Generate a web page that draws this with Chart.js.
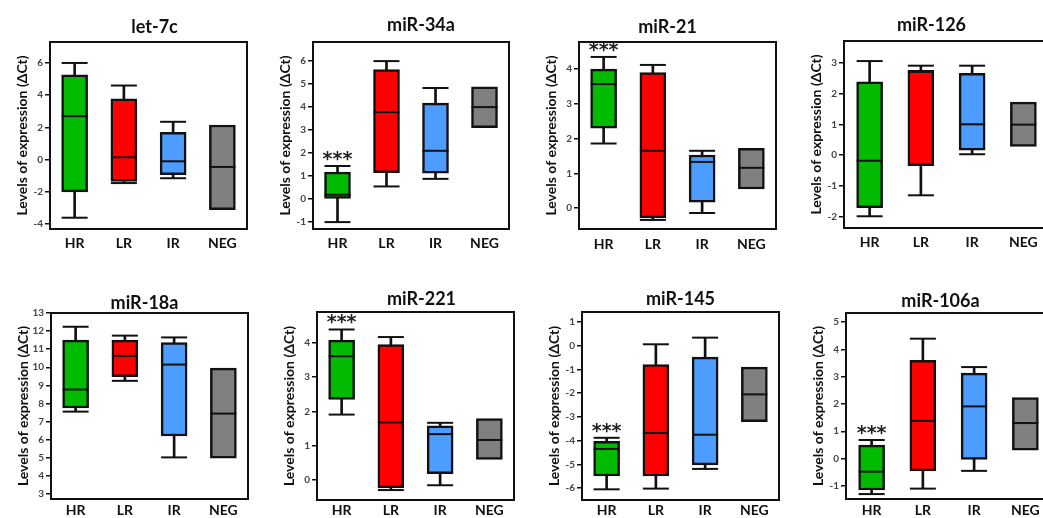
<!DOCTYPE html>
<html>
<head>
<meta charset="utf-8">
<script src="https://cdn.jsdelivr.net/npm/chart.js@4.4.0/dist/chart.umd.min.js"></script>
<style>
html, body { margin: 0; padding: 0; background: #fff; overflow: hidden; width: 1043px; height: 518px; }
#wrap { position: relative; width: 1043px; height: 518px; overflow: hidden; }
canvas { position: absolute; }
</style>
</head>
<body>
<div id="wrap"></div>
<script>
var groups = ["HR", "LR", "IR", "NEG"];
var titles = ["let-7c", "miR-34a", "miR-21", "miR-126", "miR-18a", "miR-221", "miR-145", "miR-106a"];
var boxColors = ["#00bb00", "#ff0000", "#4d9cff", "#808080"];

// one row per panel, one value per group (null = no whisker drawn)
var whiskerLow = [
    [-3.6, -1.45, -1.15, null],
    [-1.0, 0.55, 0.88, null],
    [1.86, -0.34, -0.14, null],
    [-1.98, -1.3, 0.03, null],
    [7.55, 9.25, 5.02, null],
    [1.91, -0.29, -0.15, null],
    [-6.05, -6.02, -5.19, null],
    [-1.3, -1.1, -0.45, null]
];
var q1 = [
    [-2.0, -1.35, -0.93, -3.1],
    [0.0, 1.15, 1.13, 3.1],
    [2.3, -0.28, 0.17, 0.55],
    [-1.7, -0.34, 0.16, 0.28],
    [7.75, 9.48, 6.2, 4.98],
    [2.35, -0.22, 0.19, 0.6],
    [-5.49, -5.49, -5.02, -3.2],
    [-1.15, -0.45, -0.03, 0.31]
];
var medians = [
    [2.7, 0.15, -0.1, -0.45],
    [0.19, 3.78, 2.1, 4.0],
    [3.57, 1.65, 1.33, 1.16],
    [-0.18, 2.7, 1.0, 0.99],
    [8.77, 10.63, 10.15, 7.44],
    [3.61, 1.68, 1.34, 1.17],
    [-4.35, -3.68, -3.75, -2.05],
    [-0.48, 1.38, 1.91, 1.3]
];
var q3 = [
    [5.27, 3.78, 1.7, 2.15],
    [1.17, 5.63, 4.17, 4.88],
    [4.0, 3.9, 1.53, 1.72],
    [2.38, 2.75, 2.65, 1.72],
    [11.5, 11.5, 11.37, 9.95],
    [4.08, 3.95, 1.58, 1.79],
    [-4.03, -0.8, -0.48, -0.9],
    [0.49, 3.6, 3.13, 2.23]
];
var whiskerHigh = [
    [6.0, 4.6, 2.35, null],
    [1.44, 6.0, 4.83, null],
    [4.35, 4.12, 1.65, null],
    [3.05, 2.9, 2.9, null],
    [12.24, 11.75, 11.65, null],
    [4.39, 4.17, 1.67, null],
    [-3.88, 0.06, 0.34, null],
    [0.68, 4.39, 3.35, null]
];
var starred = [false, true, true, false, false, true, true, true];
var yMin = [-4.3, -1.3, -0.6, -2.36, 2.72, -0.58, -6.5, -1.48];
var yMax = [7.3, 6.83, 4.78, 3.7, 13.0, 4.9, 1.42, 5.33];
var yStep = [2, 1, 1, 1, 1, 1, 1, 1];

// layout: plot frame [left, top, width, height] in page pixels
var panelBoxes = [
    [50, 42, 208, 187],
    [313, 42, 207, 187],
    [579, 42, 208, 187],
    [844, 41, 216, 187],
    [51, 313, 208, 186],
    [317, 312, 208, 188],
    [582, 312, 208, 188],
    [846, 313, 216, 186]
];
var titleShift = [[6, -15], [10, -17], [-10, -15], [-15, -16], [-5, -10], [6, -13], [0, -13], [-8, -12]];
var labelPad = [6, 6, 7, 6, 3, 2, 2, 3];

var FONT = "Lato, 'Open Sans', sans-serif";
var AXW = 40, TOPSPACE = 40, XAXH = 26;

// frame round the plot, panel title and the *** marks
var panelPlugin = {
    id: "panelExtras",
    afterDraw: function(chart) {
        var p = chart.options.plugins.panelExtras.index;
        var a = chart.chartArea;
        var ctx = chart.ctx;
        ctx.save();
        ctx.strokeStyle = "#111";
        ctx.lineWidth = 2;
        ctx.strokeRect(a.left, a.top, a.right - a.left, a.bottom - a.top);

        ctx.fillStyle = "#111";
        ctx.font = "bold 18px " + FONT;
        ctx.textAlign = "center";
        ctx.textBaseline = "middle";
        ctx.fillText(titles[p], (a.left + a.right) / 2 + titleShift[p][0], a.top + titleShift[p][1]);

        if (starred[p]) {
            var x = chart.scales.x.getPixelForValue(0);
            var y = chart.scales.y.getPixelForValue(whiskerHigh[p][0]);
            ctx.font = "bold 19px 'DejaVu Sans', sans-serif";
            ctx.fillStyle = "#222";
            ctx.fillText("***", x, y - 6);
        }
        ctx.restore();
    }
};

function pairs(lo, hi) {
    var out = [];
    for (var i = 0; i < lo.length; i++) {
        out.push(lo[i] == null ? null : [lo[i], hi[i]]);
    }
    return out;
}

function drawPanel(p) {
    var b = panelBoxes[p];
    var canvas = document.createElement("canvas");
    canvas.width = b[2] + AXW + 4;
    canvas.height = b[3] + TOPSPACE + XAXH;
    canvas.style.left = (b[0] - AXW) + "px";
    canvas.style.top = (b[1] - TOPSPACE) + "px";
    document.getElementById("wrap").appendChild(canvas);

    var capStyle = {
        type: "line", showLine: false, pointStyle: "line", pointRadius: 13,
        pointBorderWidth: 2, pointBorderColor: "#111", pointHoverRadius: 13
    };

    new Chart(canvas.getContext("2d"), {
        type: "bar",
        data: {
            labels: groups,
            datasets: [
                Object.assign({ label: "median", data: medians[p], order: 1 }, capStyle),
                Object.assign({ label: "max", data: whiskerHigh[p], order: 1 }, capStyle),
                Object.assign({ label: "min", data: whiskerLow[p], order: 1 }, capStyle),
                {
                    label: "box", data: pairs(q1[p], q3[p]), order: 2,
                    backgroundColor: boxColors, borderColor: "#111", borderWidth: 2.5,
                    borderSkipped: false, barThickness: 26, grouped: false
                },
                {
                    label: "whisker", data: pairs(whiskerLow[p], whiskerHigh[p]), order: 3,
                    backgroundColor: "#111", borderWidth: 0, barThickness: 2, grouped: false
                }
            ]
        },
        options: {
            responsive: false,
            devicePixelRatio: 1,
            animation: false,
            events: [],
            layout: { padding: { top: TOPSPACE, right: 4, left: 0, bottom: 0 } },
            plugins: {
                legend: { display: false },
                tooltip: { enabled: false },
                panelExtras: { index: p }
            },
            scales: {
                x: {
                    grid: { display: false, drawTicks: false },
                    border: { display: false },
                    ticks: { color: "#111", padding: labelPad[p], font: { family: FONT, size: 14, weight: "bold" } },
                    afterFit: function(s) { s.height = XAXH; }
                },
                y: {
                    min: yMin[p],
                    max: yMax[p],
                    border: { display: false },
                    grid: { drawOnChartArea: false, drawTicks: true, tickLength: 5, color: "#111", lineWidth: 1.5 },
                    ticks: { stepSize: yStep[p], includeBounds: false, padding: 2, color: "#444",
                             font: { family: FONT, size: 10, weight: "bold" } },
                    title: { display: true, text: "Levels of expression (\u0394Ct)", color: "#111",
                             padding: { top: 4, bottom: 0 }, font: { family: FONT, size: 14, weight: "bold" } },
                    afterFit: function(s) { s.width = AXW; }
                }
            }
        },
        plugins: [panelPlugin]
    });
}

for (var p = 0; p < titles.length; p++) {
    drawPanel(p);
}
</script>
</body>
</html>
